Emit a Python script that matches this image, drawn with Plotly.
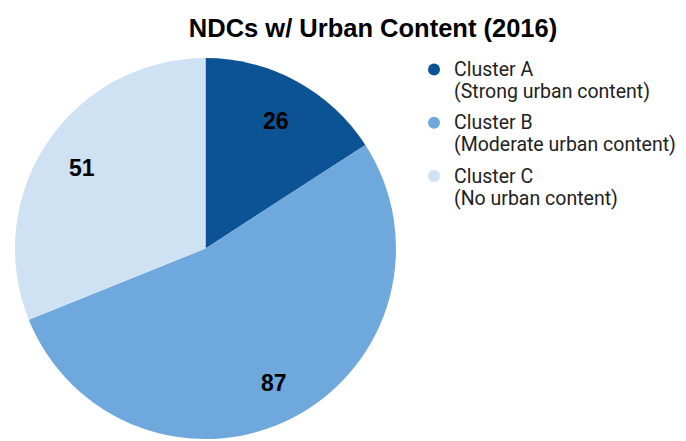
import math
import plotly.graph_objects as go

names = ["Cluster A", "Cluster B", "Cluster C"]
descriptions = ["(Strong urban content)", "(Moderate urban content)", "(No urban content)"]
values = [26, 87, 51]
colors = ["#0b5394", "#6fa8dc", "#cfe2f3"]

W, H = 686, 441
px0, px1, py0, py1 = 15, 396, 2, 383  # pie domain in px (from left / from bottom)

labels = [f"{n}<br>{d}" for n, d in zip(names, descriptions)]

fig = go.Figure()
fig.add_trace(go.Pie(
    labels=labels, values=values, sort=False, direction="clockwise", rotation=0,
    marker=dict(colors=colors, line=dict(width=0)),
    textinfo="none", showlegend=False, hoverinfo="label+value",
    domain=dict(x=[px0 / W, px1 / W], y=[py0 / H, py1 / H]),
))
for i, (n, d, col) in enumerate(zip(names, descriptions, colors)):
    fig.add_trace(go.Scatter(
        x=[None], y=[None], mode="markers", legendgroup=f"g{i}",
        name=f"<span style='font-size:19.5px'>{n}</span><br><span style='font-size:19.5px'>{d}</span>",
        marker=dict(symbol="circle", size=16, color=col)))

# value labels placed at the angular midpoint of each slice
cx, cy = (px0 + px1) / 2, (py0 + py1) / 2
R = min(px1 - px0, py1 - py0) / 2
total = sum(values)
cum = 0
for v in values:
    mid = (cum + v / 2) / total * 2 * math.pi
    cum += v
    r = 0.78 * R
    x = cx + r * math.sin(mid)
    y = cy + r * math.cos(mid)
    fig.add_annotation(x=x / W, y=y / H, xref="paper", yref="paper", text=f"<b>{v}</b>",
                       showarrow=False, xanchor="center", yanchor="middle", yshift=-3,
                       font=dict(family="Liberation Sans", size=23, color="#000000"))

fig.update_layout(
    width=W, height=H, margin=dict(l=0, r=0, t=0, b=0),
    paper_bgcolor="white", plot_bgcolor="white",
    title=dict(text="<b>NDCs w/ Urban Content (2016)</b>", x=373 / W, xanchor="center",
               y=1 - 28 / H, yanchor="middle",
               font=dict(family="Liberation Sans", size=25.5, color="#000000")),
    xaxis=dict(visible=False), yaxis=dict(visible=False),
    legend=dict(x=414 / W, y=1 - 52 / H, xanchor="left", yanchor="top",
                font=dict(family="Roboto", size=17, color="#222222"),
                valign="top", itemsizing="constant", tracegroupgap=6),
)
fig.write_html("out.html")
